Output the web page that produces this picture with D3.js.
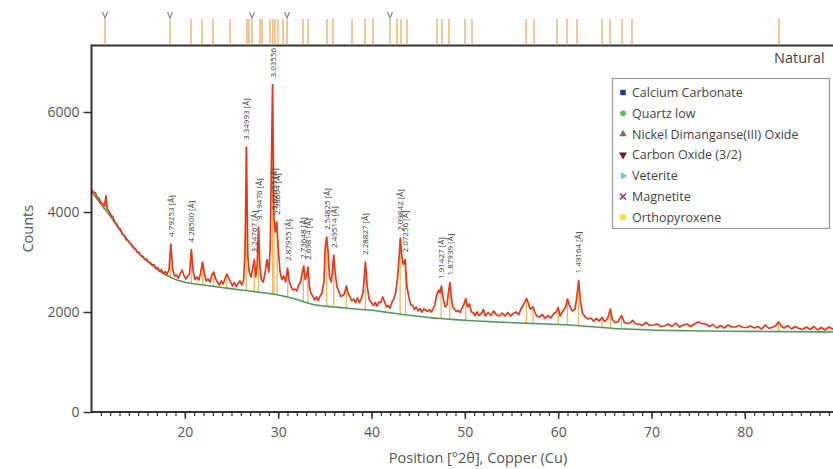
<!DOCTYPE html>
<html>
<head>
<meta charset="utf-8">
<script src="https://cdn.jsdelivr.net/npm/d3@7"></script>
<style>
  body { margin: 0; background: #fff; }
  text { font-family: "Open Sans", sans-serif; }
</style>
</head>
<body>
<div id="chart"></div>
<script>
// measured pattern, [2theta, counts]
var profile = [
  [10.0,4450],[10.2,4400],[10.4,4390],[10.6,4290],[10.8,4280],[11.0,4190],[11.2,4170],[11.4,4120],[11.55,4330],[11.7,4060],
  [11.9,4010],[12.1,3930],[12.3,3900],[12.5,3800],[12.7,3760],[12.9,3680],[13.1,3660],[13.3,3550],[13.5,3540],[13.7,3450],
  [13.9,3430],[14.1,3380],[14.3,3340],[14.5,3280],[14.7,3270],[14.9,3190],[15.1,3200],[15.3,3120],[15.5,3120],[15.7,3050],
  [15.9,3060],[16.1,3000],[16.3,2990],[16.5,2940],[16.7,2950],[16.9,2870],[17.1,2890],[17.3,2810],[17.5,2850],[17.7,2770],
  [17.9,2810],[18.1,2760],[18.3,2840],[18.5,3360],[18.7,2850],[18.9,2720],[19.1,2740],[19.3,2680],[19.5,2760],[19.7,2840],
  [19.9,2740],[20.1,2660],[20.3,2720],[20.5,2760],[20.7,3250],[20.9,2800],[21.1,2650],[21.3,2700],[21.5,2640],[21.7,2780],
  [21.9,3000],[22.1,2760],[22.3,2620],[22.5,2660],[22.7,2600],[22.9,2740],[23.1,2800],[23.3,2660],[23.5,2600],[23.7,2540],
  [23.9,2620],[24.1,2560],[24.3,2660],[24.5,2760],[24.7,2680],[24.9,2600],[25.1,2520],[25.3,2590],[25.5,2510],[25.7,2570],
  [25.9,2620],[26.1,2540],[26.3,2640],[26.45,3200],[26.6,5300],[26.75,3100],[26.9,2800],[27.1,2700],[27.3,2900],[27.45,3050],
  [27.6,2700],[27.75,2950],[27.9,3700],[28.05,2900],[28.2,2650],[28.4,2600],[28.6,2780],[28.8,3050],[29.0,2800],[29.15,3300],
  [29.4,6550],[29.55,3900],[29.7,3600],[29.85,3800],[30.0,3300],[30.2,2800],[30.4,2650],[30.6,2720],[30.8,2600],[31.0,2880],
  [31.2,2600],[31.4,2500],[31.6,2440],[31.8,2460],[32.0,2420],[32.2,2540],[32.4,2600],[32.6,2800],[32.75,2920],[32.9,2650],
  [33.05,2720],[33.2,2900],[33.35,2500],[33.5,2380],[33.7,2320],[33.9,2240],[34.1,2300],[34.3,2230],[34.5,2320],[34.7,2380],
  [34.9,2600],[35.05,3300],[35.2,3500],[35.35,3200],[35.5,2700],[35.7,2600],[35.85,2900],[35.95,3140],[36.1,2800],[36.3,2500],
  [36.5,2420],[36.7,2310],[36.9,2330],[37.1,2360],[37.3,2520],[37.5,2380],[37.7,2300],[37.9,2220],[38.1,2260],[38.3,2190],
  [38.5,2280],[38.7,2190],[38.9,2260],[39.1,2400],[39.35,3000],[39.55,2500],[39.75,2260],[39.95,2200],[40.2,2130],[40.4,2190],
  [40.6,2120],[40.8,2200],[41.0,2190],[41.2,2300],[41.4,2200],[41.6,2100],[41.8,2130],[42.0,2080],[42.2,2200],[42.4,2260],
  [42.6,2400],[42.8,2700],[43.0,3200],[43.1,3480],[43.25,3100],[43.4,2950],[43.6,3050],[43.8,2500],[44.0,2300],[44.2,2150],
  [44.4,2130],[44.6,2050],[44.8,2100],[45.0,2020],[45.2,2070],[45.4,2000],[45.6,2060],[45.8,2040],[46.0,2010],[46.2,2050],
  [46.4,2000],[46.6,2060],[46.8,2150],[47.0,2350],[47.2,2440],[47.35,2380],[47.5,2520],[47.7,2250],[47.9,2100],[48.1,2150],
  [48.25,2400],[48.4,2590],[48.55,2300],[48.7,2100],[48.9,2060],[49.1,2010],[49.3,2030],[49.5,1990],[49.7,2080],[49.9,2150],
  [50.1,2270],[50.3,2100],[50.5,2160],[50.7,2000],[50.9,1990],[51.1,1930],[51.3,2000],[51.5,1930],[51.8,1980],[52.0,2050],
  [52.2,1920],[52.5,1990],[52.8,1930],[53.1,2020],[53.4,1940],[53.7,1920],[54.0,1980],[54.3,1920],[54.6,1990],[54.9,1920],
  [55.2,1970],[55.5,2000],[55.8,1950],[56.0,2060],[56.3,2150],[56.6,2270],[56.8,2180],[57.0,2060],[57.3,2100],[57.5,2000],
  [57.7,1920],[58.0,1900],[58.3,1950],[58.6,1870],[58.9,1930],[59.2,1880],[59.5,1960],[59.8,2000],[60.0,2090],[60.2,1920],
  [60.5,2020],[60.8,2100],[61.0,2260],[61.2,2140],[61.5,2020],[61.8,2050],[62.0,2300],[62.2,2630],[62.4,2200],[62.6,1980],
  [62.9,1900],[63.2,1860],[63.5,1880],[63.8,1820],[64.1,1870],[64.4,1820],[64.7,1890],[65.0,1810],[65.3,1870],[65.6,2060],
  [65.8,1850],[66.1,1790],[66.4,1800],[66.8,1930],[67.1,1790],[67.4,1770],[67.7,1780],[68.0,1830],[68.3,1760],[68.6,1760],
  [69.0,1730],[69.4,1790],[69.8,1730],[70.2,1740],[70.6,1760],[71.0,1710],[71.4,1720],[71.8,1760],[72.2,1710],[72.6,1780],
  [73.0,1700],[73.4,1740],[73.8,1760],[74.2,1710],[74.6,1760],[75.0,1800],[75.4,1770],[75.8,1760],[76.2,1710],[76.6,1750],
  [77.0,1680],[77.4,1730],[77.8,1680],[78.2,1740],[78.6,1700],[79.0,1700],[79.4,1730],[79.8,1690],[80.2,1690],[80.6,1720],
  [81.0,1680],[81.4,1710],[81.8,1660],[82.2,1740],[82.6,1670],[83.0,1700],[83.3,1720],[83.6,1800],[83.9,1720],[84.2,1680],
  [84.6,1730],[85.0,1660],[85.4,1710],[85.8,1670],[86.2,1650],[86.6,1700],[87.0,1650],[87.4,1710],[87.8,1640],[88.2,1690],
  [88.6,1640],[89.0,1700],[89.4,1660],[89.8,1700],[90.0,1680]
];

// fitted background
var bgAngles = [10,11,12,13,14,15,16,17,18,19,20,22,24,26,28,29,30,31,32,33,34,35,36,37,38,39,40,41,42,43,44,45,46,47,48,49,50,52,54,56,58,60,62,64,66,68,70,74,78,82,86,90];
var bgCounts = [4420,4160,3920,3650,3410,3190,3010,2860,2740,2650,2595,2540,2490,2440,2395,2370,2340,2300,2250,2190,2140,2120,2100,2085,2065,2050,2035,2010,1985,1960,1935,1915,1895,1875,1860,1848,1835,1815,1795,1780,1765,1750,1730,1700,1670,1655,1640,1625,1615,1610,1605,1600];

// labelled peaks
var peakAngles = [18.50,20.71,26.59,27.44,27.90,29.40,29.55,29.90,31.03,32.70,33.18,35.19,35.96,39.34,43.07,43.64,47.46,48.39,62.18];
var peakCounts = [3360,3250,5300,3050,3700,6550,3900,3800,2880,2920,2900,3500,3140,3000,3480,3050,2520,2590,2630];
var peakLabels = ["4.79253 [Å]","4.28500 [Å]","3.34993 [Å]","3.24767 [Å]","3.19476 [Å]","3.03556 [Å]","3.02055 [Å]","2.98604 [Å]",
  "2.87955 [Å]","2.73648 [Å]","2.69814 [Å]","2.54825 [Å]","2.49514 [Å]","2.28827 [Å]","2.09842 [Å]","2.07256 [Å]",
  "1.91427 [Å]","1.87939 [Å]","1.49164 [Å]"];

// smaller unlabelled peaks
var minorAngles = [11.55,21.9,23.1,24.5,37.3,50.1,56.6,57.3,60.0,61.0,64.7,65.6,66.8,83.6];
var minorCounts = [4330,3000,2800,2760,2520,2270,2270,2100,2090,2260,1890,2060,1930,1800];

// reference pattern positions (top strip)
var refAngles = [11.45,18.41,20.66,21.84,23.02,24.84,26.66,26.87,27.19,28.05,28.27,29.12,29.44,29.66,29.98,30.52,30.95,
  32.66,33.20,35.23,35.87,37.91,39.30,40.16,41.98,42.73,43.16,43.80,47.02,47.55,48.30,50.02,50.77,56.56,57.41,59.88,60.95,
  62.02,64.70,65.56,66.84,67.91,83.66];
var refMarked = [11.45,18.41,27.19,30.95,41.98];

var phases = ["Calcium Carbonate","Quartz low","Nickel Dimanganse(III) Oxide","Carbon Oxide (3/2)","Veterite","Magnetite","Orthopyroxene"];
var phaseColors = ["#2b3990","#5cb84c","#8f6b68","#7a1a10","#6cc6e6","#a0308c","#f2e21a"];

var xTicks = [20,30,40,50,60,70,80];
var yTicks = [0,2000,4000,6000];

var svgWidth = 833;
var svgHeight = 469;

var plotLeft = 91.5;
var plotTop = 45.5;
var plotBottom = 412;

var svg = d3.select("#chart")
  .append("svg")
  .attr("width", svgWidth)
  .attr("height", svgHeight);

var xScale = d3.scaleLinear().domain([10, 90]).range([plotLeft, plotLeft + 80 * 9.333]);
var yScale = d3.scaleLinear().domain([0, 7330]).range([plotBottom, plotTop]);

svg.append("clipPath").attr("id", "plotClip")
  .append("rect")
  .attr("x", plotLeft).attr("y", plotTop)
  .attr("width", 800).attr("height", plotBottom - plotTop);

var plot = svg.append("g").attr("clip-path", "url(#plotClip)");

// background value at an angle, for the foot of each stick
function bgAt(a) {
  var i = d3.bisectRight(bgAngles, a) - 1;
  i = Math.max(0, Math.min(i, bgAngles.length - 2));
  var t = (a - bgAngles[i]) / (bgAngles[i + 1] - bgAngles[i]);
  return bgCounts[i] + t * (bgCounts[i + 1] - bgCounts[i]);
}

var sticks = peakAngles.map(function(a, i) { return [a, peakCounts[i]]; })
  .concat(minorAngles.map(function(a, i) { return [a, minorCounts[i]]; }));

plot.selectAll(".stick").data(sticks).enter()
  .append("line")
  .attr("class", "stick")
  .attr("x1", function(d) { return xScale(d[0]); })
  .attr("x2", function(d) { return xScale(d[0]); })
  .attr("y1", function(d) { return yScale(bgAt(d[0])); })
  .attr("y2", function(d) { return yScale(d[1]); })
  .attr("stroke", "#f3b45c")
  .attr("stroke-width", 1.3);

// background line
var bgLine = d3.line()
  .x(function(d) { return xScale(d); })
  .y(function(d, i) { return yScale(bgCounts[i]); })
  .curve(d3.curveMonotoneX);

plot.append("path")
  .datum(bgAngles)
  .attr("d", bgLine)
  .attr("fill", "none")
  .attr("stroke", "#4f9a58")
  .attr("stroke-width", 1.6);

// measured line
var line = d3.line()
  .x(function(d) { return xScale(d[0]); })
  .y(function(d) { return yScale(d[1]); });

plot.append("path")
  .datum(profile)
  .attr("d", line)
  .attr("fill", "none")
  .attr("stroke", "#e5391c")
  .attr("stroke-width", 1.7)
  .attr("stroke-linejoin", "round");

// peak labels, rotated
plot.selectAll(".peakLabel").data(peakAngles).enter()
  .append("text")
  .attr("class", "peakLabel")
  .attr("transform", function(d, i) {
    return "translate(" + (xScale(d) + 3) + "," + (yScale(peakCounts[i]) - 7) + ")rotate(-90)";
  })
  .attr("font-size", 8)
  .attr("fill", "#333")
  .text(function(d, i) { return peakLabels[i]; });

// axes
var xAxisMinor = d3.axisBottom(xScale).tickValues(d3.range(11, 90)).tickSize(4).tickFormat("");
var xAxis = d3.axisBottom(xScale).tickValues(xTicks).tickSize(7).tickPadding(8);
var yAxis = d3.axisLeft(yScale).tickValues(yTicks).tickSize(8).tickPadding(4).tickFormat(d3.format("d"));

svg.append("g")
  .attr("transform", "translate(0," + plotBottom + ")")
  .call(xAxisMinor)
  .call(function(g) { g.select(".domain").remove(); g.selectAll("line").attr("stroke", "#333").attr("stroke-width", 1.2); });

var gx = svg.append("g")
  .attr("transform", "translate(0," + plotBottom + ")")
  .call(xAxis);
gx.select(".domain").remove();
gx.selectAll("line").attr("stroke", "#333").attr("stroke-width", 1.5);
gx.selectAll("text").attr("font-size", 14).attr("fill", "#555").style("font-family", "'Open Sans', sans-serif");

var gy = svg.append("g")
  .attr("transform", "translate(" + plotLeft + ",0)")
  .call(yAxis);
gy.select(".domain").remove();
gy.selectAll("line").attr("stroke", "#333").attr("stroke-width", 1.5);
gy.selectAll("text").attr("font-size", 14).attr("fill", "#555").style("font-family", "'Open Sans', sans-serif");

// frame lines
svg.append("line").attr("x1", plotLeft).attr("x2", svgWidth).attr("y1", plotBottom).attr("y2", plotBottom)
  .attr("stroke", "#333").attr("stroke-width", 2);
svg.append("line").attr("x1", plotLeft).attr("x2", svgWidth).attr("y1", plotTop).attr("y2", plotTop)
  .attr("stroke", "#333").attr("stroke-width", 2);
svg.append("line").attr("x1", plotLeft).attr("x2", plotLeft).attr("y1", plotTop - 1).attr("y2", plotBottom + 1)
  .attr("stroke", "#333").attr("stroke-width", 2);

// reference strip
svg.selectAll(".ref").data(refAngles).enter()
  .append("line")
  .attr("class", "ref")
  .attr("x1", function(d) { return xScale(d); })
  .attr("x2", function(d) { return xScale(d); })
  .attr("y1", 19)
  .attr("y2", plotTop - 1)
  .attr("stroke", "#f0b06a")
  .attr("stroke-width", 1.4);

svg.selectAll(".refMark").data(refMarked).enter()
  .append("path")
  .attr("class", "refMark")
  .attr("transform", function(d) { return "translate(" + xScale(d) + ",15)"; })
  .attr("d", "M-2.5,-3L0,3L2.5,-3")
  .attr("fill", "none")
  .attr("stroke", "#888")
  .attr("stroke-width", 1.2);

svg.append("text")
  .attr("x", 774).attr("y", 63)
  .attr("font-size", 14.5)
  .attr("fill", "#444")
  .text("Natural");

// axis titles
svg.append("text")
  .attr("transform", "translate(33," + ((plotTop + plotBottom) / 2) + ")rotate(-90)")
  .attr("text-anchor", "middle")
  .attr("font-size", 14.5)
  .attr("fill", "#555")
  .text("Counts");

svg.append("text")
  .attr("x", 478).attr("y", 463)
  .attr("text-anchor", "middle")
  .attr("font-size", 14.5)
  .attr("fill", "#555")
  .text("Position [°2θ], Copper (Cu)");

// legend
var legend = svg.append("g");
legend.append("rect")
  .attr("x", 612.5).attr("y", 78.5)
  .attr("width", 217).attr("height", 150)
  .attr("fill", "#fff")
  .attr("stroke", "#999")
  .attr("stroke-width", 1.2);

var symbols = [
  { type: d3.symbolSquare, size: 30, rot: 0 },
  { type: d3.symbolCircle, size: 26, rot: 0 },
  { type: d3.symbolTriangle, size: 24, rot: 0 },
  { type: d3.symbolTriangle, size: 28, rot: 180 },
  { type: d3.symbolTriangle, size: 24, rot: 90 },
  null,
  { type: d3.symbolSquare, size: 30, rot: 0 }
];

var items = legend.selectAll(".item").data(phases).enter()
  .append("g")
  .attr("class", "item")
  .attr("transform", function(d, i) { return "translate(623," + (92.5 + i * 20.8) + ")"; });

items.each(function(d, i) {
  var g = d3.select(this);
  if (symbols[i]) {
    g.append("path")
      .attr("d", d3.symbol().type(symbols[i].type).size(symbols[i].size))
      .attr("transform", "rotate(" + symbols[i].rot + ")")
      .attr("fill", phaseColors[i]);
  } else {
    g.append("path")
      .attr("d", "M-3,-3L3,3M-3,3L3,-3")
      .attr("stroke", phaseColors[i])
      .attr("stroke-width", 1.6);
  }
});

items.append("text")
  .attr("x", 9).attr("y", 4.5)
  .attr("font-size", 12.5)
  .attr("fill", "#444")
  .text(function(d) { return d; });
</script>
</body>
</html>
